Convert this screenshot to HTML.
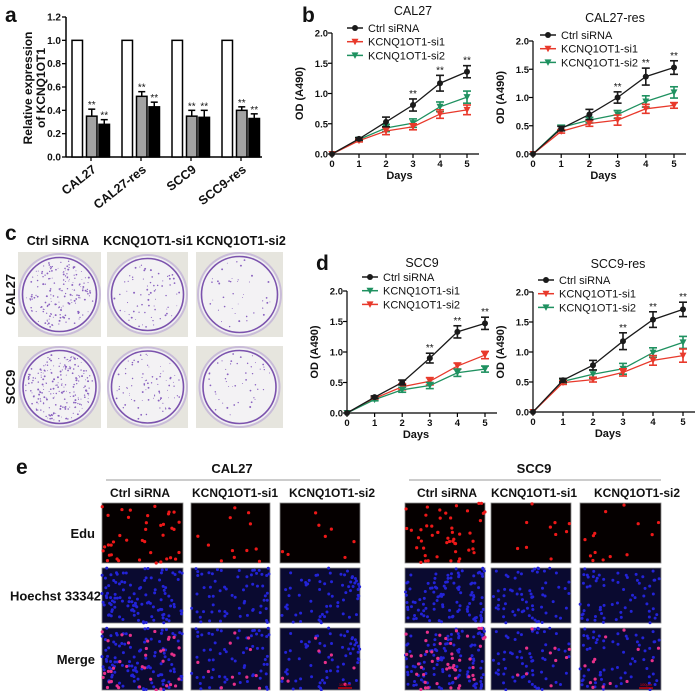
<!DOCTYPE html>
<html><head><meta charset="utf-8">
<style>
html,body{margin:0;padding:0;background:#fff;}
svg{display:block;font-family:"Liberation Sans",Arial,sans-serif;}
</style></head>
<body>
<svg id="fig" width="700" height="691" viewBox="0 0 700 691" xmlns="http://www.w3.org/2000/svg"></svg>
<script>
// ---------- Panel a data ----------
const aCategories = ["CAL27","CAL27-res","SCC9","SCC9-res"];
const aCtrl = [1,1,1,1];
const aSi1 = [0.35,0.52,0.35,0.40];
const aSi1Err = [0.06,0.04,0.05,0.03];
const aSi2 = [0.28,0.43,0.34,0.33];
const aSi2Err = [0.04,0.04,0.06,0.04];
const aTicks = [0,0.2,0.4,0.6,0.8,1.0,1.2];
// ---------- Line chart data ----------
const days = [0,1,2,3,4,5];
const odTicks = [0,0.5,1.0,1.5,2.0];
const b1Ctrl=[0,0.25,0.53,0.81,1.17,1.36], b1CtrlErr=[0,0.02,0.08,0.1,0.13,0.1];
const b1Si1=[0,0.22,0.38,0.45,0.66,0.73], b1Si1Err=[0,0.02,0.06,0.05,0.07,0.08];
const b1Si2=[0,0.24,0.43,0.51,0.78,0.94], b1Si2Err=[0,0.02,0.06,0.07,0.08,0.1];
const b2Ctrl=[0,0.45,0.70,1.00,1.37,1.53], b2CtrlErr=[0,0.04,0.09,0.1,0.15,0.12];
const b2Si1=[0,0.40,0.54,0.60,0.80,0.86], b2Si1Err=[0,0.03,0.05,0.09,0.08,0.05];
const b2Si2=[0,0.47,0.60,0.70,0.93,1.09], b2Si2Err=[0,0.04,0.05,0.07,0.1,0.1];
const d1Ctrl=[0,0.26,0.50,0.90,1.33,1.47], d1CtrlErr=[0,0.02,0.04,0.08,0.1,0.1];
const d1Si1=[0,0.22,0.38,0.45,0.66,0.72], d1Si1Err=[0,0.02,0.04,0.05,0.06,0.05];
const d1Si2=[0,0.24,0.43,0.52,0.77,0.95], d1Si2Err=[0,0.02,0.05,0.06,0.05,0.06];
const d2Ctrl=[0,0.53,0.78,1.18,1.54,1.71], d2CtrlErr=[0,0.03,0.08,0.14,0.13,0.12];
const d2Si1=[0,0.49,0.54,0.66,0.86,0.94], d2Si1Err=[0,0.03,0.04,0.06,0.08,0.11];
const d2Si2=[0,0.51,0.63,0.72,0.99,1.16], d2Si2Err=[0,0.03,0.07,0.09,0.08,0.1];
const starDays=[3,4,5];

const NS="http://www.w3.org/2000/svg";
const svg=document.getElementById('fig');
function el(tag,attrs,parent,text){const e=document.createElementNS(NS,tag);for(const k in attrs)e.setAttribute(k,attrs[k]);if(text!==undefined)e.textContent=text;(parent||svg).appendChild(e);return e;}
function grp(name,parent){const g=el('g',{},parent);


return g;}
function label(txt,x,y,size,bold,anchor,parent,name,extra){const t=el('text',Object.assign({x:x,y:y,'font-size':size,'font-weight':bold?'bold':'normal','text-anchor':anchor||'start',fill:'#111'},extra||{}),parent,txt);


return t;}

// ---------- Panel a ----------
(function(){
const g=grp('panel-a');
label('a',5,22,21,true,'start',g,'panel-label-a');
const x0=66,yZero=157,yTop=17;
const ys=v=>yZero-(v/1.2)*(yZero-yTop);
el('line',{x1:x0,y1:yTop,x2:x0,y2:yZero,stroke:'#000','stroke-width':1.5},g);
el('line',{x1:x0,y1:yZero,x2:262,y2:yZero,stroke:'#000','stroke-width':1.5},g);
aTicks.forEach(t=>{el('line',{x1:x0-4,y1:ys(t),x2:x0,y2:ys(t),stroke:'#000','stroke-width':1.3},g);
label(t.toFixed(1),x0-5,ys(t)+3.5,10,true,'end',g,'y-tick-label');});
const yl=label('',0,0,12,true,'middle',g,'y-axis-title',{transform:'translate(32,88) rotate(-90)'});
el('tspan',{x:0,dy:0},yl,'Relative expression');el('tspan',{x:0,dy:13},yl,'of KCNQ1OT1');
aCategories.forEach((c,i)=>{const gx=72+i*50;
 const bw=10.5;
 const b1=el('rect',{x:gx,y:ys(aCtrl[i]),width:bw,height:yZero-ys(aCtrl[i]),fill:'#fff',stroke:'#000','stroke-width':1.5},g);
 
 const vals=[[aSi1[i],aSi1Err[i],'#a3a3a3',gx+14.5,'si1'],[aSi2[i],aSi2Err[i],'#000',gx+27,'si2']];
 vals.forEach(v=>{
  const r=el('rect',{x:v[3],y:ys(v[0]),width:bw,height:yZero-ys(v[0]),fill:v[2],stroke:'#000','stroke-width':1.5},g);
  
  const cx=v[3]+bw/2;
  el('line',{x1:cx,y1:ys(v[0]),x2:cx,y2:ys(v[0]+v[1]),stroke:'#000','stroke-width':1.5},g);
  el('line',{x1:cx-3.5,y1:ys(v[0]+v[1]),x2:cx+3.5,y2:ys(v[0]+v[1]),stroke:'#000','stroke-width':1.5},g);
  label('**',cx,ys(v[0]+v[1])-1,10,false,'middle',g,'significance-stars');
 });
 const tx=gx+19;
 el('line',{x1:tx,y1:yZero,x2:tx,y2:yZero+4,stroke:'#000','stroke-width':1.3},g);
 label(c,tx+6,yZero+14,12.5,true,'end',g,'x-tick-label',{transform:'rotate(-38 '+(tx+6)+' '+(yZero+14)+')'});
});
})();

// ---------- Line charts ----------
const RED='#e8392b',GREEN='#1f9160',BLACK='#1a1a1a';
function lineChart(o){
 const g=grp(o.name);
 const xs=d=>o.x0+(d/5)*(o.x5-o.x0);
 const ys=v=>o.y0-(v/2)*(o.y0-o.y2);
 el('line',{x1:o.x0,y1:o.y2,x2:o.x0,y2:o.y0,stroke:'#000','stroke-width':1.2},g);
 el('line',{x1:o.x0,y1:o.y0,x2:o.x5+12,y2:o.y0,stroke:'#000','stroke-width':1.2},g);
 odTicks.forEach(t=>{el('line',{x1:o.x0-4,y1:ys(t),x2:o.x0,y2:ys(t),stroke:'#000','stroke-width':1.2},g);
  label(t.toFixed(1),o.x0-4,ys(t)+3.5,9.5,true,'end',g,'y-tick-label');});
 days.forEach(d=>{el('line',{x1:xs(d),y1:o.y0,x2:xs(d),y2:o.y0+4,stroke:'#000','stroke-width':1.2},g);
  label(String(d),xs(d),o.y0+13,9.5,true,'middle',g,'x-tick-label');});
 label('Days',(o.x0+o.x5)/2,o.y0+25,11,true,'middle',g,'x-axis-title');
 label('OD (A490)',0,0,11,true,'middle',g,'y-axis-title',{transform:'translate('+(o.x0-29)+','+((o.y0+o.y2)/2)+') rotate(-90)'});
 label(o.title,o.tx,o.ty,12.5,false,'middle',g,'chart-title');
 o.series.slice().reverse().forEach(s=>{
  const sg=grp('series-'+s.label,g);
  const pts=days.map((d,i)=>xs(d)+','+ys(s.vals[i])).join(' ');
  el('polyline',{points:pts,fill:'none',stroke:s.color,'stroke-width':1.3},sg);
  days.forEach((d,i)=>{const cx=xs(d),v=s.vals[i],e=s.err[i];
   if(e>0){el('line',{x1:cx,y1:ys(v-e),x2:cx,y2:ys(v+e),stroke:s.color,'stroke-width':1.6},sg);
    [v-e,v+e].forEach(q=>el('line',{x1:cx-4,y1:ys(q),x2:cx+4,y2:ys(q),stroke:s.color,'stroke-width':1.6},sg));}
   let m;
   if(s.marker==='c') m=el('circle',{cx:cx,cy:ys(v),r:3,fill:s.color},sg);
   else m=el('polygon',{points:(cx-3.5)+','+(ys(v)-3)+' '+(cx+3.5)+','+(ys(v)-3)+' '+cx+','+(ys(v)+3.5),fill:s.color},sg);
   
  });
 });
 const c=o.series[0];
 starDays.forEach(d=>label('**',xs(d),ys(c.vals[d]+c.err[d])-2,10,false,'middle',g,'significance-stars'));
 o.series.forEach((s,i)=>{const ly=o.ly+i*13.7;const lg=grp('legend-entry',g);
  el('line',{x1:o.lx,y1:ly,x2:o.lx+16,y2:ly,stroke:s.color,'stroke-width':1.5},lg);
  if(s.marker==='c') el('circle',{cx:o.lx+8,cy:ly,r:3,fill:s.color},lg);
  else el('polygon',{points:(o.lx+4.5)+','+(ly-3)+' '+(o.lx+11.5)+','+(ly-3)+' '+(o.lx+8)+','+(ly+3.5),fill:s.color},lg);
  label(s.label,o.lx+21,ly+4,11,false,'start',lg,'legend-label');
 });
 return g;
}
label('b',302,22,21,true,'start',null,'panel-label-b');
lineChart({name:'chart-cal27',x0:332,x5:467,y0:154,y2:33,title:'CAL27',tx:413,ty:15,lx:347,ly:28,
 series:[{label:'Ctrl siRNA',vals:b1Ctrl,err:b1CtrlErr,color:BLACK,marker:'c'},
 {label:'KCNQ1OT1-si1',vals:b1Si1,err:b1Si1Err,color:RED,marker:'t'},
 {label:'KCNQ1OT1-si2',vals:b1Si2,err:b1Si2Err,color:GREEN,marker:'t'}]});
lineChart({name:'chart-cal27-res',x0:533,x5:674,y0:154,y2:41,title:'CAL27-res',tx:615,ty:22,lx:540,ly:35,
 series:[{label:'Ctrl siRNA',vals:b2Ctrl,err:b2CtrlErr,color:BLACK,marker:'c'},
 {label:'KCNQ1OT1-si1',vals:b2Si1,err:b2Si1Err,color:RED,marker:'t'},
 {label:'KCNQ1OT1-si2',vals:b2Si2,err:b2Si2Err,color:GREEN,marker:'t'}]});
label('d',316,270,21,true,'start',null,'panel-label-d');
lineChart({name:'chart-scc9',x0:347,x5:485,y0:413,y2:291,title:'SCC9',tx:422,ty:267,lx:362,ly:277,
 series:[{label:'Ctrl siRNA',vals:d1Ctrl,err:d1CtrlErr,color:BLACK,marker:'c'},
 {label:'KCNQ1OT1-si1',vals:d1Si1,err:d1Si1Err,color:GREEN,marker:'t'},
 {label:'KCNQ1OT1-si2',vals:d1Si2,err:d1Si2Err,color:RED,marker:'t'}]});
lineChart({name:'chart-scc9-res',x0:533,x5:683,y0:412,y2:292,title:'SCC9-res',tx:618,ty:268,lx:538,ly:280,
 series:[{label:'Ctrl siRNA',vals:d2Ctrl,err:d2CtrlErr,color:BLACK,marker:'c'},
 {label:'KCNQ1OT1-si1',vals:d2Si1,err:d2Si1Err,color:RED,marker:'t'},
 {label:'KCNQ1OT1-si2',vals:d2Si2,err:d2Si2Err,color:GREEN,marker:'t'}]});

let seed=12345;function rnd(){seed=(seed*1103515245+12345)%2147483648;return seed/2147483648;}

// ---------- Panel c (colony plates) ----------
(function(){
const g=grp('panel-c');
label('c',5,240,21,true,'start',g,'panel-label-c');
const cols=[[18,101,'Ctrl siRNA',180],[107,188,'KCNQ1OT1-si1',70],[196,283,'KCNQ1OT1-si2',40]];
const rows=[[252,337,'CAL27'],[346,428,'SCC9']];
const hx=[58,148,241];
cols.forEach((c,i)=>label(c[2],hx[i],245,12.5,true,'middle',g,'column-header'));
rows.forEach(r=>label(r[2],0,0,13,true,'middle',g,'row-label',{transform:'translate(15,'+((r[0]+r[1])/2)+') rotate(-90)'}));
rows.forEach((r,ri)=>cols.forEach((c,ci)=>{
 const pg=grp('colony-plate',g);
 el('rect',{x:c[0],y:r[0],width:c[1]-c[0],height:r[1]-r[0],fill:'#e6e5de'},pg);
 const cx=(c[0]+c[1])/2,cy=(r[0]+r[1])/2,R=Math.min(c[1]-c[0],r[1]-r[0])/2-1;
 el('circle',{cx:cx,cy:cy,r:R,fill:'#f1f0f2',stroke:'#c9bcd8','stroke-width':2},pg);
 el('circle',{cx:cx,cy:cy,r:R-3.5,fill:'#f3f2f4',stroke:'#7b52ad','stroke-width':1.6},pg);
 const n=ri===1&&ci===0?220:c[3]*(ri===1?1.2:1);
 for(let k=0;k<n;k++){const a=rnd()*6.283,rr=Math.sqrt(rnd())*(R-6);
  el('circle',{cx:cx+rr*Math.cos(a),cy:cy+rr*Math.sin(a),r:0.4+rnd()*0.6,fill:'#8a62c0'},pg);}
}));
})();

// ---------- Panel e (EdU images) ----------
(function(){
const g=grp('panel-e');
label('e',16,474,21,true,'start',g,'panel-label-e');
const groups=[{t:'CAL27',cx:232,l1:106,l2:360,cols:[[102,183],[191,270],[280,360]],hx:[140,235,332]},
 {t:'SCC9',cx:534,l1:409,l2:661,cols:[[405,485],[491,571],[580,661]],hx:[447,534,637]}];
const rows=[[503,563,'Edu'],[568,623,'Hoechst 33342'],[628,690,'Merge']];
const names=['Ctrl siRNA','KCNQ1OT1-si1','KCNQ1OT1-si2'];
const redN=[[40,12,8],[50,10,14]];
rows.forEach(r=>label(r[2],r[2]==='Hoechst 33342'?101:95,(r[0]+r[1])/2+5,13,true,'end',g,'row-label'));
groups.forEach((G,gi)=>{
 label(G.t,G.cx,473,13,true,'middle',g,'group-title');
 el('line',{x1:G.l1,y1:480,x2:G.l2,y2:480,stroke:'#bbb','stroke-width':1.5},g);
 G.hx.forEach((x,i)=>label(names[i],x,497,12,true,'middle',g,'column-header'));
 G.cols.forEach((c,ci)=>{
  const w=c[1]-c[0];
  const blue=[];for(let k=0;k<(ci===0?110:65);k++)blue.push([rnd()*w,rnd()]);
  const reds=[];for(let k=0;k<redN[gi][ci];k++)reds.push([rnd()*w,rnd()]);
  rows.forEach((r,ri)=>{
   const h=r[1]-r[0];const ig=grp('micrograph-'+r[2].split(' ')[0].toLowerCase(),g);
   el('rect',{x:c[0],y:r[0],width:w,height:h,fill:ri===0?'#050000':'#0a0a30',stroke:'#888','stroke-width':0.8},ig);
   if(ri>0) blue.forEach(p=>el('circle',{cx:c[0]+p[0],cy:r[0]+p[1]*h,r:1.5,fill:'#2323d8'},ig));
   if(ri!==1) reds.forEach(p=>el('circle',{cx:c[0]+p[0],cy:r[0]+p[1]*h,r:1.6,fill:ri===0?'#ee1818':'#e8308a'},ig));
  });
  if(ci===2){el('line',{x1:c[1]-22,y1:688,x2:c[1]-8,y2:688,stroke:'#e00','stroke-width':1.2},g);
   label('100μm',c[1]-15,686,4,false,'middle',g,'scale-bar-label',{fill:'#e00'});}
 });
});
})();
</script>
</body></html>
